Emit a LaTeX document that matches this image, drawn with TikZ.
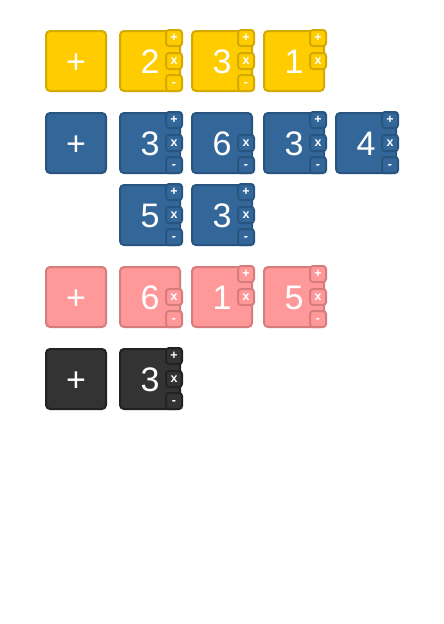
\documentclass[tikz,border=0pt]{standalone}
\usepackage{fontspec}
\setmainfont{Liberation Sans}
\usetikzlibrary{positioning}
\definecolor{yelfill}{HTML}{FFCC00} \definecolor{yelline}{HTML}{D4A900}
\definecolor{bluefill}{HTML}{336699} \definecolor{blueline}{HTML}{285580}
\definecolor{pinkfill}{HTML}{FF9999} \definecolor{pinkline}{HTML}{D67C7C}
\definecolor{darkfill}{HTML}{333333} \definecolor{darkline}{HTML}{222222}
\tikzset{
    tile/.style={draw, rounded corners=4pt, line width=2pt, minimum size=60pt, inner sep=0pt, text height=24pt, text depth=0pt, text=white, font=\fontsize{34}{34}\selectfont}, % 大方块
    key/.style={draw, rounded corners=3pt, line width=2pt, minimum size=16pt, inner sep=0pt, text height=7pt, text depth=0pt, text=white, font=\fontsize{12.5}{12.5}\selectfont\bfseries}, % 右侧小按钮
    yel/.style={fill=yelfill, draw=yelline},
    blu/.style={fill=bluefill, draw=blueline},
    pnk/.style={fill=pinkfill, draw=pinkline},
    drk/.style={fill=darkfill, draw=darkline}
}
% 小按钮: 节点名, 颜色样式, 列表 名/偏移/符号
\newcommand{\tilekeys}[3]{%
    \foreach \k/\dy/\lab in {#3} {\node[key, #2] (#1\k) at ([xshift=24pt, yshift=\dy pt]#1.center) {\lab};}}

\begin{document}
\begin{tikzpicture}[x=1pt, y=-1pt]
            \useasboundingbox (0,0) rectangle (444,624);

            % 黄色一行
            \node[tile, yel] (y0) at (76,61) {+};
            \foreach \n/\x/\t in {1/150/2, 2/222/3, 3/294/1} {\node[tile, yel] (y\n) at (\x,61) {\t};}
            \tilekeys{y1}{yel}{p/23/+, m/0/x, s/-22/-}
            \tilekeys{y2}{yel}{p/23/+, m/0/x, s/-22/-}
            \tilekeys{y3}{yel}{p/23/+, m/0/x}

            % 蓝色两行
            \node[tile, blu] (b0) at (76,143) {+};
            \foreach \n/\x/\y/\t in {1/150/143/3, 2/222/143/6, 3/294/143/3, 4/366/143/4, 5/150/215/5, 6/222/215/3} {\node[tile, blu] (b\n) at (\x,\y) {\t};}
            \tilekeys{b1}{blu}{p/23/+, m/0/x, s/-22/-}
            \tilekeys{b2}{blu}{m/0/x, s/-22/-}
            \tilekeys{b3}{blu}{p/23/+, m/0/x, s/-22/-}
            \tilekeys{b4}{blu}{p/23/+, m/0/x, s/-22/-}
            \tilekeys{b5}{blu}{p/23/+, m/0/x, s/-22/-}
            \tilekeys{b6}{blu}{p/23/+, m/0/x, s/-22/-}

            % 粉色一行
            \node[tile, pnk] (r0) at (76,297) {+};
            \foreach \n/\x/\t in {1/150/6, 2/222/1, 3/294/5} {\node[tile, pnk] (r\n) at (\x,297) {\t};}
            \tilekeys{r1}{pnk}{m/0/x, s/-22/-}
            \tilekeys{r2}{pnk}{p/23/+, m/0/x}
            \tilekeys{r3}{pnk}{p/23/+, m/0/x, s/-22/-}

            % 黑色一行
            \node[tile, drk] (k0) at (76,379) {+};
            \node[tile, drk] (k1) at (150,379) {3};
            \tilekeys{k1}{drk}{p/23/+, m/0/x, s/-22/-}
        \end{tikzpicture}
\end{document}
